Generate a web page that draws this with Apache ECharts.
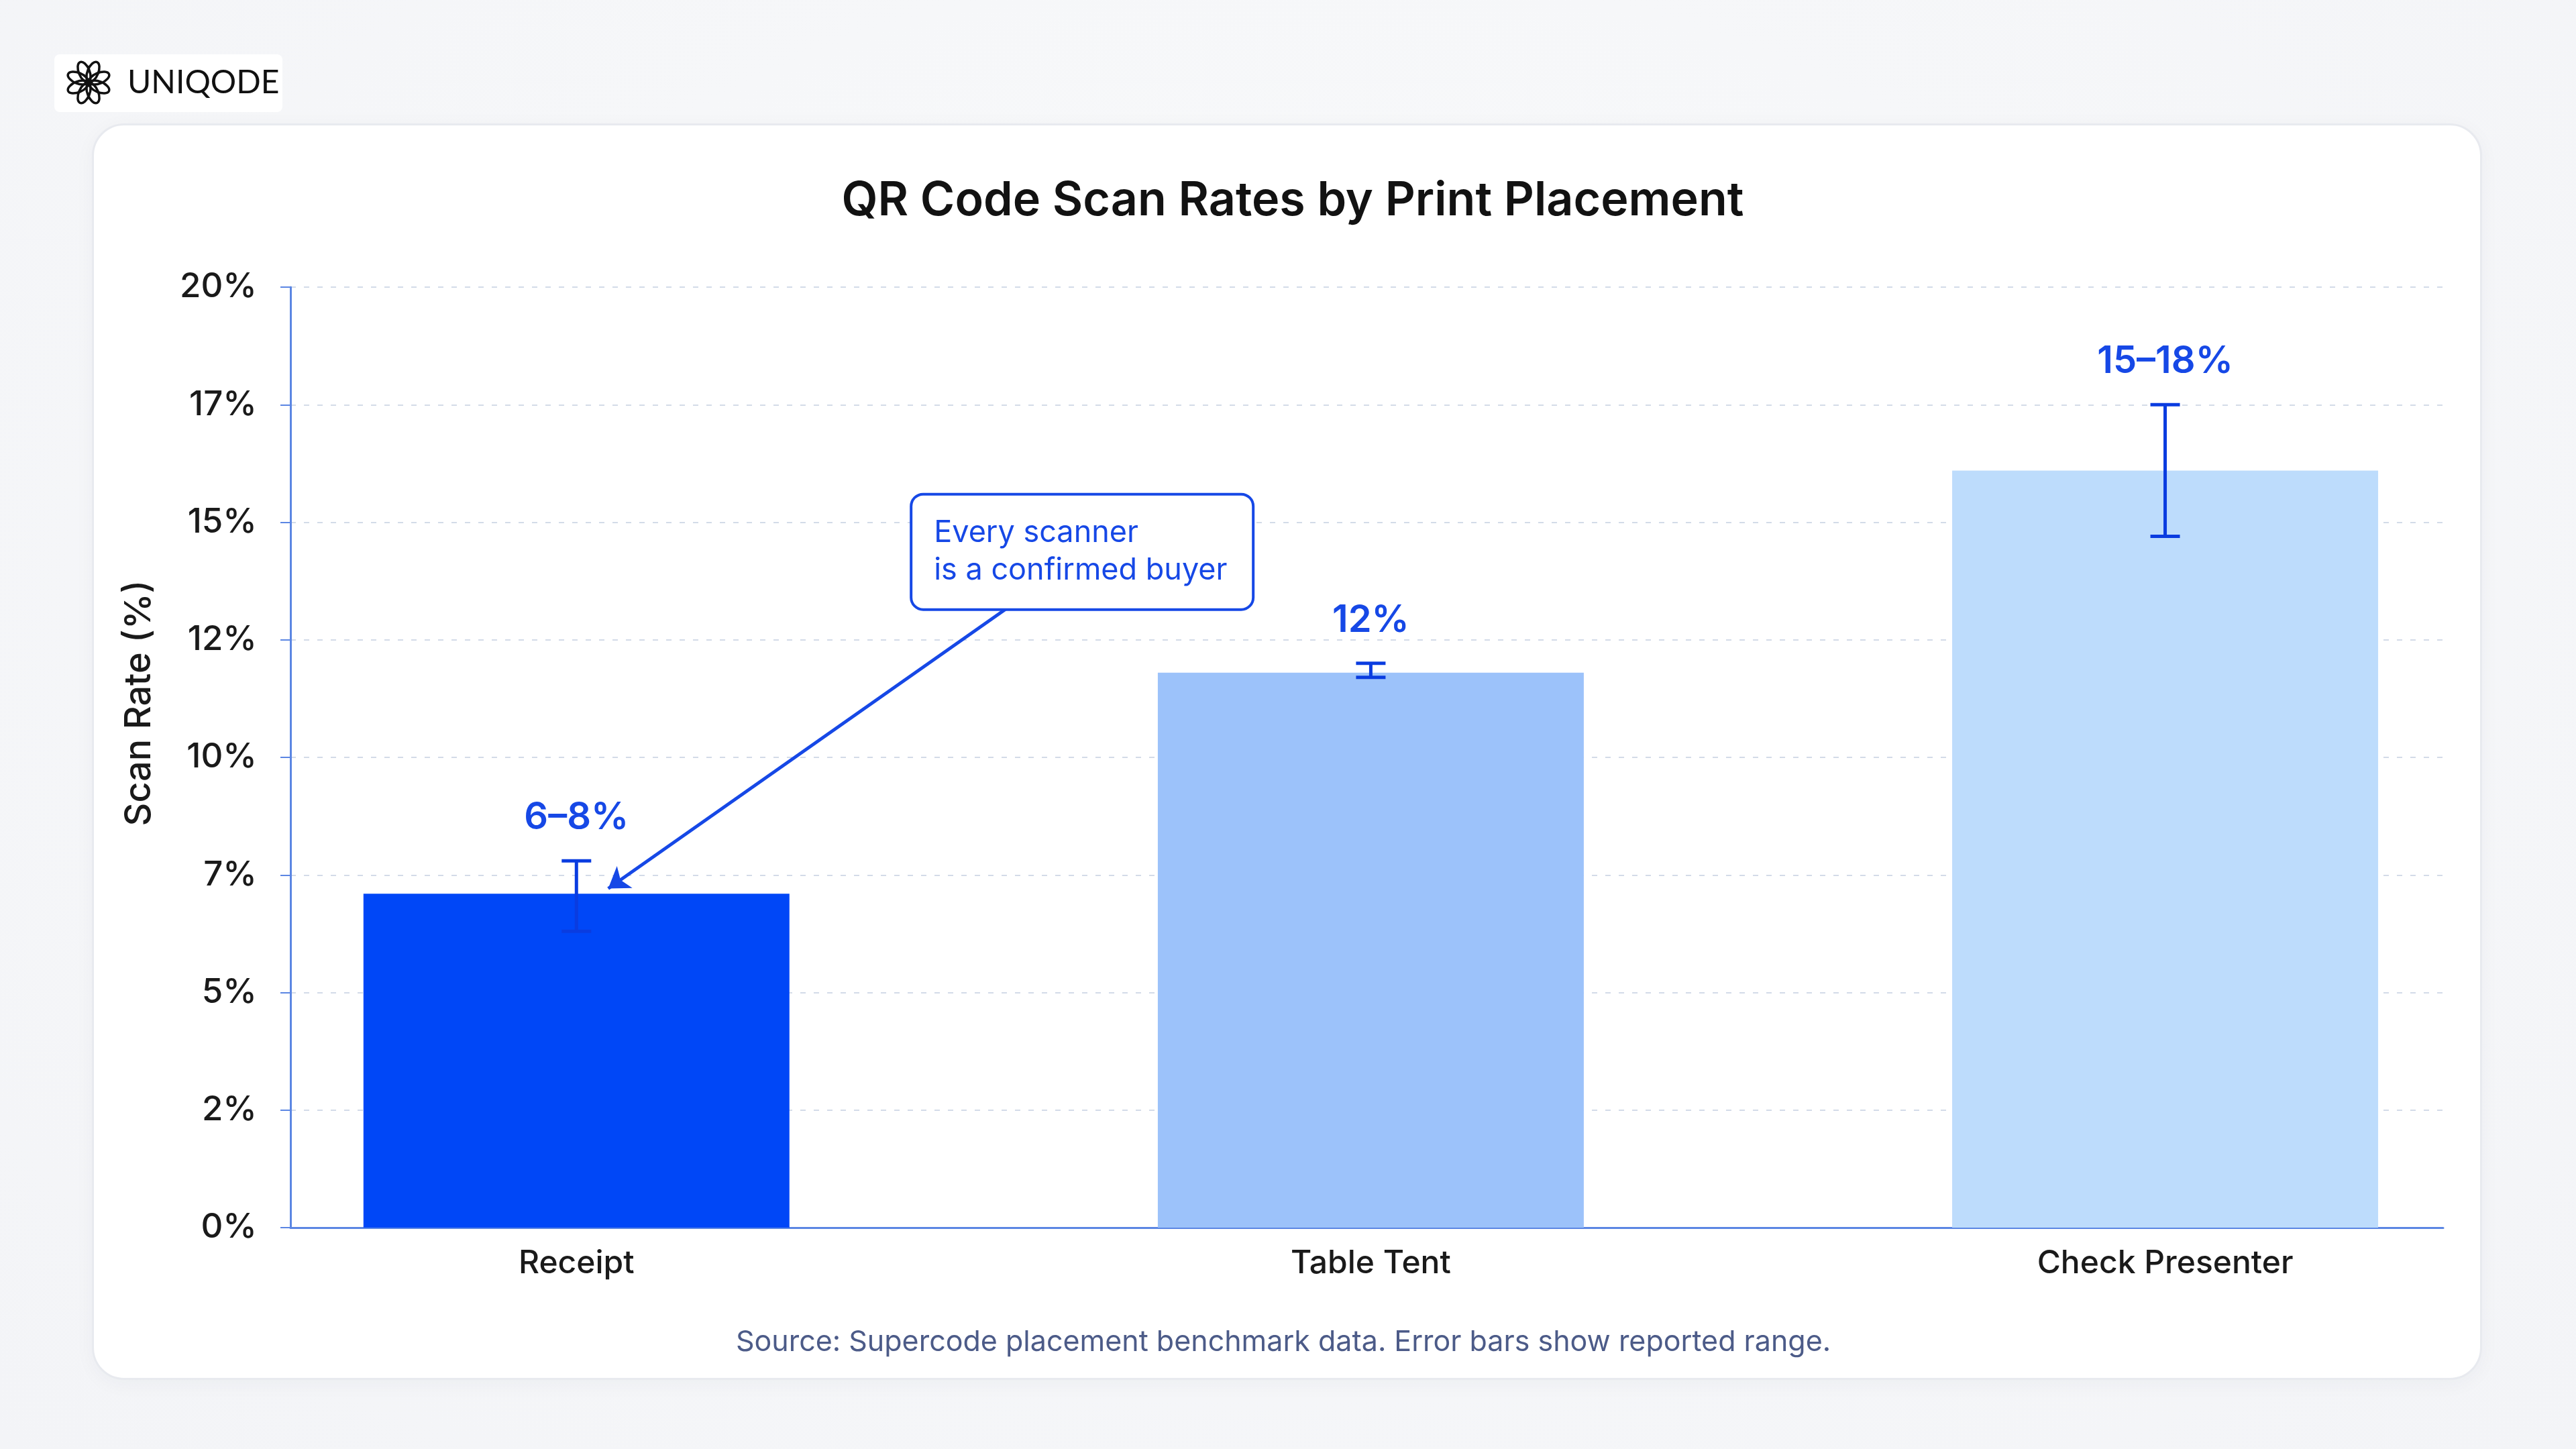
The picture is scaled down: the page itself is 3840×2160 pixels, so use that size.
<!DOCTYPE html>
<html>
<head>
<meta charset="utf-8">
<title>QR Code Scan Rates by Print Placement</title>
<script src="https://cdn.jsdelivr.net/npm/echarts@6.0.0/dist/echarts.min.js"></script>
<style>
  html, body { margin: 0; padding: 0; width: 3840px; height: 2160px; overflow: hidden; }
  body { background: radial-gradient(ellipse at 50% 40%, #f9fafb 0%, #f3f4f7 100%); position: relative; }
  #card {
    position: absolute; left: 137px; top: 184px; width: 3563px; height: 1873px;
    background: #fff; border: 3px solid #e8eaef; border-radius: 48px; box-sizing: border-box;
    box-shadow: 0 6px 30px rgba(30, 40, 70, 0.04);
  }
  #chart { position: absolute; left: 0; top: 0; width: 3840px; height: 2160px; }
</style>
</head>
<body>
<div id="card"></div>
<div id="chart"></div>
<script>
// chart data
const categories = ['Receipt', 'Table Tent', 'Check Presenter']
const scanRates = [7.1, 11.8, 16.1]
const rangeLow = [6.3, 11.7, 14.7]
const rangeHigh = [7.8, 12.0, 17.5]
const rangeLabels = ['6–8%', '12%', '15–18%']
const yTickLabels = ['0%', '2%', '5%', '7%', '10%', '12%', '15%', '17%', '20%']

// annotation (in data coordinates)
const noteText = 'Every scanner\nis a confirmed buyer'
const notePos = [0.423, 14.37]
const arrowFrom = [0.541, 13.16]
const arrowTo = [0.04, 7.21]

const barColors = ['#0047f7', '#9cc2fa', '#bddcfc']
const accent = '#1648e6'
const errColor = '#0a3ce0'
const axisBlue = '#5b86e3'
const font = 'Inter, "Noto Sans", sans-serif'

const chart = echarts.init(document.getElementById('chart'))

// flower logo petals
const petals = []
for (let k = 0; k < 8; k++) {
  const a = (Math.PI / 4) * k + Math.PI / 8
  petals.push({
    type: 'ellipse',
    x: 132 + Math.sin(a) * 17,
    y: 123 - Math.cos(a) * 17,
    rotation: -a,
    shape: { cx: 0, cy: 0, rx: 8, ry: 16 },
    style: { fill: 'none', stroke: '#111', lineWidth: 3.5 },
  })
}

chart.setOption({
  animation: false,
  graphic: [
    {
      type: 'rect',
      shape: { x: 81, y: 81, width: 340, height: 86, r: 8 },
      style: { fill: '#fff' },
    },
    { type: 'group', children: petals },
    {
      type: 'circle',
      shape: { cx: 132, cy: 123, r: 3 },
      style: { fill: '#111' },
    },
    {
      type: 'text',
      x: 190, y: 124,
      style: {
        text: 'UNIQODE', fill: '#111', font: '400 48px Lato, Inter, sans-serif',
        verticalAlign: 'middle', textVerticalAlign: 'middle',
      },
    },
    {
      type: 'text',
      x: 1927, y: 300,
      style: {
        text: 'QR Code Scan Rates by Print Placement', fill: '#121212',
        font: '600 70px ' + font,
        align: 'center', verticalAlign: 'middle',
        textAlign: 'center', textVerticalAlign: 'middle',
      },
    },
    {
      type: 'text',
      x: 208, y: 1048,
      rotation: Math.PI / 2,
      style: {
        text: 'Scan Rate (%)', fill: '#1a1a1a',
        font: '500 54px ' + font,
        align: 'center', verticalAlign: 'middle',
        textAlign: 'center', textVerticalAlign: 'middle',
      },
    },
    {
      type: 'text',
      x: 1913, y: 2001,
      style: {
        text: 'Source: Supercode placement benchmark data. Error bars show reported range.',
        fill: '#4c5b88', font: '400 43px ' + font,
        align: 'center', verticalAlign: 'middle',
        textAlign: 'center', textVerticalAlign: 'middle',
      },
    },
  ],
  grid: { left: 433, right: 198, top: 428, bottom: 330, containLabel: false },
  xAxis: {
    type: 'value',
    min: -0.36,
    max: 2.35,
    splitLine: { show: false },
    axisTick: { show: false },
    axisLine: { show: true, onZero: false, lineStyle: { color: axisBlue, width: 3 } },
    axisLabel: {
      customValues: [0, 1, 2],
      formatter: v => categories[Math.round(v)] || '',
      color: '#1a1a1a', fontSize: 48, fontWeight: 500, fontFamily: font, margin: 30,
    },
  },
  yAxis: {
    type: 'value',
    min: 0,
    max: 20,
    interval: 2.5,
    axisLine: { show: true, onZero: false, lineStyle: { color: axisBlue, width: 3 } },
    axisTick: { show: true, length: 15, lineStyle: { color: axisBlue, width: 2 } },
    axisLabel: {
      formatter: v => yTickLabels[Math.round(v / 2.5)],
      color: '#1a1a1a', fontSize: 51, fontWeight: 500, fontFamily: font, margin: 50,
    },
    splitLine: { show: true, lineStyle: { color: '#d3dbe8', width: 2, type: [8, 12] } },
  },
  series: [
    {
      type: 'bar',
      barWidth: 635,
      data: scanRates.map((v, i) => ({
        value: [i, v],
        itemStyle: { color: barColors[i] },
      })),
      markPoint: {
        symbol: 'rect',
        symbolSize: 1,
        itemStyle: { color: 'rgba(0,0,0,0)' },
        silent: true,
        data: [{ coord: notePos, value: 0 }],
        label: {
          show: true,
          position: 'inside',
          formatter: noteText,
          color: accent,
          fontSize: 45,
          fontFamily: font,
          lineHeight: 56,
          align: 'left',
          width: 442,
          backgroundColor: '#fff',
          borderColor: accent,
          borderWidth: 4,
          borderRadius: 16,
          padding: [28, 32, 28, 32],
        },
      },
      markLine: {
        silent: true,
        symbol: ['none', 'arrow'],
        symbolSize: 30,
        label: { show: false },
        lineStyle: { color: accent, width: 5, type: 'solid' },
        data: [[{ coord: arrowFrom }, { coord: arrowTo }]],
      },
      z: 2,
    },
    {
      type: 'custom',
      z: 5,
      data: categories.map((c, i) => [i, rangeLow[i], rangeHigh[i]]),
      encode: { x: 0, y: [1, 2] },
      renderItem: (params, api) => {
        const x = api.value(0)
        const lo = api.coord([x, api.value(1)])
        const hi = api.coord([x, api.value(2)])
        const cap = 22
        const st = { stroke: errColor, lineWidth: 5 }
        return {
          type: 'group',
          children: [
            { type: 'line', shape: { x1: lo[0], y1: lo[1], x2: hi[0], y2: hi[1] }, style: st },
            { type: 'line', shape: { x1: hi[0] - cap, y1: hi[1], x2: hi[0] + cap, y2: hi[1] }, style: st },
            { type: 'line', shape: { x1: lo[0] - cap, y1: lo[1], x2: lo[0] + cap, y2: lo[1] }, style: st },
            {
              type: 'text',
              x: hi[0], y: hi[1] - 36,
              style: {
                text: rangeLabels[params.dataIndex],
                fill: accent, font: '600 56px ' + font,
                align: 'center', verticalAlign: 'bottom',
                textAlign: 'center', textVerticalAlign: 'bottom',
              },
            },
          ],
        }
      },
    },
  ],
})
</script>
</body>
</html>
